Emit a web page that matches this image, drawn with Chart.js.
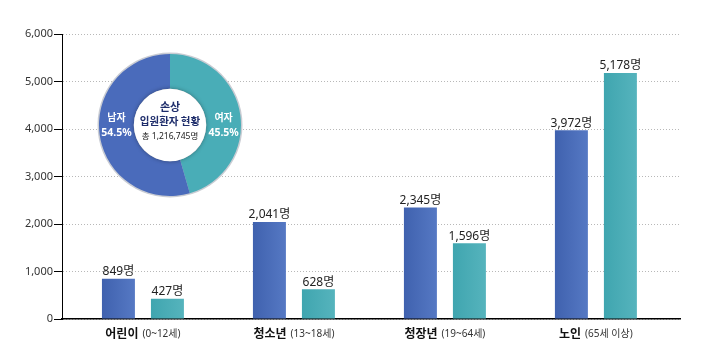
<!DOCTYPE html>
<html>
<head>
<meta charset="utf-8">
<script src="https://cdn.jsdelivr.net/npm/chart.js@4"></script>
<style>
  body { margin: 0; background: #fff; }
  #wrap { position: relative; width: 709px; height: 364px; }
  #donut { position: absolute; left: 97px; top: 52px; }
</style>
</head>
<body>
<div id="wrap">
  <canvas id="myChart" width="709" height="364"></canvas>
  <canvas id="donut" width="146" height="146"></canvas>
</div>
<script>
const categories = ['어린이', '청소년', '청장년', '노인'];
const ageRanges = ['(0~12세)', '(13~18세)', '(19~64세)', '(65세 이상)'];
const maleValues = [849, 2041, 2345, 3972];
const femaleValues = [427, 628, 1596, 5178];
const yTicks = [0, 1000, 2000, 3000, 4000, 5000, 6000];

const donutLabels = ['여자', '남자'];
const donutValues = [45.5, 54.5];
const donutTitle = ['손상', '입원환자 현황'];
const donutTotal = '총 1,216,745명';

const FONT = "'Noto Sans', 'Noto Sans CJK KR', sans-serif";
const KFONT = "'Noto Sans CJK KR', sans-serif";

// horizontal gradient per bar
function barGradient(c, from, to, shift) {
  const chart = c.chart;
  const xs = chart.scales.x;
  if (!xs || !chart.chartArea || c.dataIndex === undefined) return from;
  const cx = xs.getPixelForValue(c.dataIndex) + shift;
  const g = chart.ctx.createLinearGradient(cx - 17, 0, cx + 17, 0);
  g.addColorStop(0, from);
  g.addColorStop(1, to);
  return g;
}

const valueLabels = {
  id: 'valueLabels',
  afterDatasetsDraw(chart) {
    const ctx = chart.ctx;
    ctx.save();
    ctx.font = '12px ' + FONT;
    ctx.fillStyle = '#222';
    ctx.textAlign = 'center';
    ctx.textBaseline = 'bottom';
    chart.data.datasets.forEach((ds, di) => {
      chart.getDatasetMeta(di).data.forEach((bar, i) => {
        ctx.fillText(ds.data[i].y.toLocaleString('en-US') + '명', bar.x, bar.y - 1);
      });
    });
    ctx.restore();
  }
};

const categoryLabels = {
  id: 'categoryLabels',
  afterDraw(chart) {
    const ctx = chart.ctx;
    const xs = chart.scales.x;
    const y = chart.chartArea.bottom + 14;
    ctx.save();
    ctx.textBaseline = 'middle';
    ctx.textAlign = 'left';
    categories.forEach((name, i) => {
      const cx = xs.getPixelForValue(i);
      ctx.font = 'bold 12px ' + KFONT;
      const w1 = ctx.measureText(name).width;
      ctx.font = '10px ' + FONT;
      const w2 = ctx.measureText(ageRanges[i]).width;
      const start = cx - (w1 + 4 + w2) / 2;
      ctx.fillStyle = '#111';
      ctx.font = 'bold 12px ' + KFONT;
      ctx.fillText(name, start, y);
      ctx.fillStyle = '#333';
      ctx.font = '10px ' + FONT;
      ctx.fillText(ageRanges[i], start + w1 + 4, y + 1);
    });
    ctx.restore();
  }
};

new Chart(document.getElementById('myChart'), {
  type: 'bar',
  data: {
    datasets: [{
      label: '남자',
      data: maleValues.map((v, i) => ({ x: i, y: v })),
      backgroundColor: c => barGradient(c, '#3f61ae', '#5679c4', -24.5),
      categoryPercentage: 0.649,
      barPercentage: 0.673
    }, {
      label: '여자',
      data: femaleValues.map((v, i) => ({ x: i, y: v })),
      backgroundColor: c => barGradient(c, '#3fa5af', '#56b4bd', 24.5),
      categoryPercentage: 0.649,
      barPercentage: 0.673
    }]
  },
  options: {
    responsive: false,
    animation: false,
    devicePixelRatio: 1,
    layout: { padding: { top: 34, right: 29, bottom: 45, left: 0 } },
    plugins: { legend: { display: false }, tooltip: { enabled: false } },
    scales: {
      x: {
        type: 'linear',
        offset: false,
        min: -0.536,
        max: 3.557,
        ticks: { display: false, stepSize: 1, includeBounds: false },
        grid: { display: false, drawTicks: false, offset: false },
        border: { color: '#000', width: 1.5 }
      },
      y: {
        min: 0,
        max: 6000,
        afterFit: s => { s.width = 62; },
        afterBuildTicks: s => { s.ticks = yTicks.map(v => ({ value: v })); },
        ticks: {
          padding: 1,
          color: '#333',
          font: { size: 11, family: FONT },
          callback: v => v.toLocaleString('en-US')
        },
        grid: {
          color: '#b8b8b8',
          tickLength: 8,
          tickColor: '#000',
          tickBorderDash: [],
          tickWidth: 1
        },
        border: { color: '#000', width: 1, dash: [1, 2] }
      }
    }
  },
  plugins: [valueLabels, categoryLabels]
});

// donut overlay
const donutDeco = {
  id: 'donutDeco',
  beforeDatasetsDraw(chart) {
    const ctx = chart.ctx;
    const arc = chart.getDatasetMeta(0).data[0];
    ctx.save();
    ctx.beginPath();
    ctx.arc(arc.x, arc.y, arc.outerRadius + 1.5, 0, Math.PI * 2);
    ctx.fillStyle = '#c9ccd3';
    ctx.fill();
    ctx.restore();
  },
  afterDatasetsDraw(chart) {
    const ctx = chart.ctx;
    const arc = chart.getDatasetMeta(0).data[0];
    const cx = arc.x, cy = arc.y;
    const ri = arc.innerRadius, ro = arc.outerRadius;
    ctx.save();
    ctx.beginPath();
    ctx.arc(cx, cy, ri, 0, Math.PI * 2);
    ctx.shadowColor = 'rgba(0,0,0,0.35)';
    ctx.shadowBlur = 4;
    ctx.fillStyle = '#fff';
    ctx.fill();
    ctx.restore();

    ctx.save();
    ctx.textAlign = 'center';
    ctx.textBaseline = 'middle';
    ctx.fillStyle = '#1e2d6b';
    ctx.font = 'bold 11px ' + KFONT;
    ctx.fillText(donutTitle[0], cx, cy - 18);
    ctx.font = 'bold 10.5px ' + KFONT;
    ctx.fillText(donutTitle[1], cx, cy - 4);
    ctx.fillStyle = '#222';
    ctx.font = '8.5px ' + FONT;
    ctx.fillText(donutTotal, cx, cy + 12);

    const mid = (ri + ro) / 2;
    ctx.fillStyle = '#fff';
    ctx.font = 'bold 10px ' + KFONT;
    ctx.fillText(donutLabels[1], cx - mid, cy - 8);
    ctx.fillText(donutLabels[0], cx + mid, cy - 8);
    ctx.font = 'bold 10.5px ' + FONT;
    ctx.fillText(donutValues[1] + '%', cx - mid, cy + 8);
    ctx.fillText(donutValues[0] + '%', cx + mid, cy + 8);
    ctx.restore();
  }
};

new Chart(document.getElementById('donut'), {
  type: 'doughnut',
  data: {
    labels: donutLabels,
    datasets: [{
      data: donutValues,
      backgroundColor: ['#49adb7', '#4a6bbb'],
      borderWidth: 0
    }]
  },
  options: {
    responsive: false,
    animation: false,
    devicePixelRatio: 1,
    cutout: '51%',
    layout: { padding: 2 },
    plugins: { legend: { display: false }, tooltip: { enabled: false } }
  },
  plugins: [donutDeco]
});
</script>
</body>
</html>
